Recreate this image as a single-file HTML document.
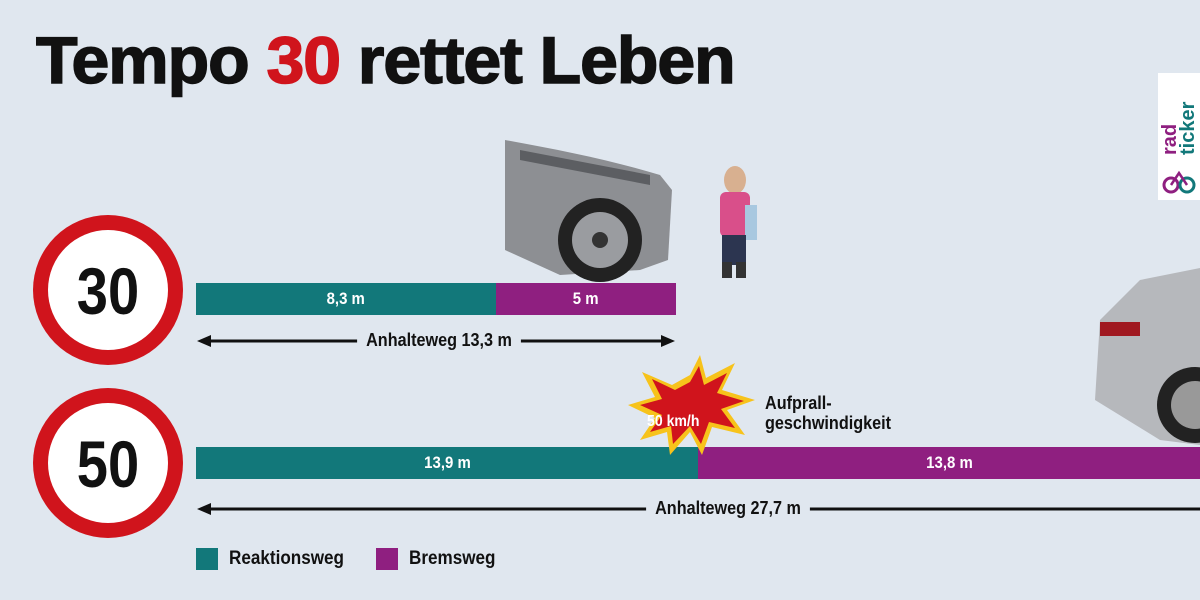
<!DOCTYPE html>
<html><head><style>
body{margin:0;width:1200px;height:600px;background:#e0e7ef;font-family:"Liberation Sans",sans-serif;overflow:hidden;position:relative}
.a{position:absolute}
.t{font-weight:bold}
.bar{position:absolute;height:32px;color:#fff;font-weight:bold;font-size:17px;line-height:32px;text-align:center}
.bar span{display:inline-block;transform:scaleX(.88)}
.lbl{position:absolute;font-weight:bold;font-size:18px;color:#111;background:#e0e7ef;padding:0 10px;transform:scaleX(.9)}
</style></head><body>
<div class="a t" style="left:36px;top:22px;font-size:66px;letter-spacing:-1px;color:#111;transform:scaleX(1.03);transform-origin:left;-webkit-text-stroke:1.5px #111">Tempo <span style="color:#d0141c;-webkit-text-stroke:1.5px #d0141c">30</span> rettet Leben</div>

<svg class="a" style="left:0;top:0" width="1200" height="600">
<g font-family="Liberation Sans" font-weight="bold" text-anchor="middle">
<circle cx="108" cy="290" r="75" fill="#d0141c"/><circle cx="108" cy="290" r="60" fill="#fff"/>
<text x="108" y="314" font-size="66" transform="translate(108 0) scale(.85 1) translate(-108 0)" fill="#111">30</text>
<circle cx="108" cy="463" r="75" fill="#d0141c"/><circle cx="108" cy="463" r="60" fill="#fff"/>
<text x="108" y="487" font-size="66" transform="translate(108 0) scale(.85 1) translate(-108 0)" fill="#111">50</text>
</g>
<g stroke="#111" stroke-width="3">
<line x1="204" y1="341" x2="668" y2="341"/><line x1="204" y1="509" x2="1200" y2="509"/>
</g>
<g fill="#111">
<polygon points="197,341 211,335 211,347"/><polygon points="675,341 661,335 661,347"/>
<polygon points="197,509 211,503 211,515"/>
</g>
<path d="M505,140 C560,150 610,160 660,175 L672,190 L668,260 L640,270 L560,275 L505,250 Z" fill="#8d8f93"/>
<circle cx="600" cy="240" r="42" fill="#222"/><circle cx="600" cy="240" r="28" fill="#9a9ca0"/><circle cx="600" cy="240" r="8" fill="#333"/>
<path d="M520,150 L650,175 L650,185 L520,160Z" fill="#5c5e62"/>
<ellipse cx="735" cy="180" rx="11" ry="14" fill="#d8b090"/>
<rect x="720" y="192" width="30" height="45" rx="6" fill="#d94f8a"/>
<rect x="745" y="205" width="12" height="35" fill="#a8c8e0"/>
<rect x="722" y="235" width="24" height="30" fill="#2c3550"/>
<rect x="722" y="262" width="10" height="16" fill="#333"/><rect x="736" y="262" width="10" height="16" fill="#333"/>
<path d="M1200,268 L1140,280 L1100,320 L1095,400 L1160,440 L1200,445 Z" fill="#b6b8bc"/>
<circle cx="1195" cy="405" r="38" fill="#222"/><circle cx="1195" cy="405" r="24" fill="#999"/>
<rect x="1100" y="322" width="40" height="14" fill="#a01820"/>
</svg>

<div class="bar" style="left:196px;top:283px;width:300px;background:#12787a"><span>8,3 m</span></div>
<div class="bar" style="left:496px;top:283px;width:180px;background:#8f1f80"><span>5 m</span></div>
<div class="lbl" style="left:348px;top:330px">Anhalteweg 13,3 m</div>

<div class="bar" style="left:196px;top:447px;width:502px;background:#12787a"><span>13,9 m</span></div>
<div class="bar" style="left:698px;top:447px;width:502px;background:#8f1f80"><span>13,8 m</span></div>
<div class="lbl" style="left:637px;top:498px">Anhalteweg 27,7 m</div>

<svg class="a" style="left:0;top:0" width="1200" height="600">
<polygon points="690,375 700,355 706,378 735,363 722,390 755,400 727,410 745,435 712,427 702,455 690,432 670,455 667,432 640,440 655,418 628,405 655,397 642,372 672,385" fill="#f7c31b"/>
<polygon points="690,382 699,366 704,385 727,373 717,393 744,401 721,409 735,428 709,422 701,444 690,426 673,444 671,426 650,432 662,415 640,405 662,399 652,379 675,390" fill="#d0141c"/>
</svg>
<div class="a t" style="left:647px;top:413px;font-size:16px;color:#fff;transform:scaleX(.88);transform-origin:left">50 km/h</div>
<div class="a t" style="left:765px;top:393px;font-size:18px;line-height:20px;color:#111;transform:scaleX(.9);transform-origin:left">Aufprall-<br>geschwindigkeit</div>

<div class="a" style="left:196px;top:548px;width:22px;height:22px;background:#12787a"></div>
<div class="a t" style="left:229px;top:548px;font-size:19px;color:#111;transform:scaleX(.9);transform-origin:left">Reaktionsweg</div>
<div class="a" style="left:376px;top:548px;width:22px;height:22px;background:#8f1f80"></div>
<div class="a t" style="left:409px;top:548px;font-size:19px;color:#111;transform:scaleX(.9);transform-origin:left">Bremsweg</div>

<div class="a" style="left:1158px;top:73px;width:42px;height:127px;background:#fff"></div>
<div class="a t" style="left:1139px;top:97px;width:80px;font-size:20px;line-height:18px;transform:rotate(-90deg);text-align:left"><span style="color:#8f1f80">rad</span><br><span style="color:#12787a">ticker</span></div>
<svg class="a" style="left:1162px;top:165px" width="34" height="32"><circle cx="9" cy="20" r="7" fill="none" stroke="#8f1f80" stroke-width="3"/><circle cx="25" cy="20" r="7" fill="none" stroke="#12787a" stroke-width="3"/><path d="M9,20 L17,8 L25,20" stroke="#8f1f80" stroke-width="2.5" fill="none"/></svg>
</body></html>
